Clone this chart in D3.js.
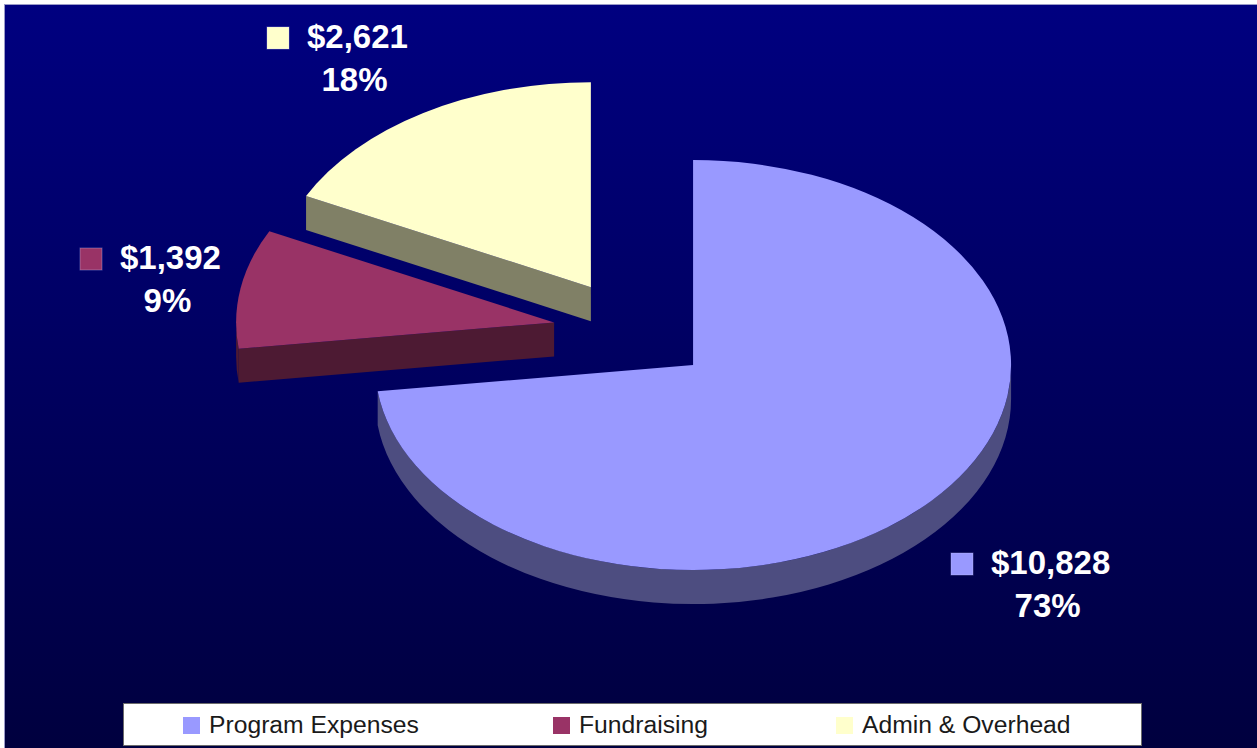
<!DOCTYPE html>
<html>
<head>
<meta charset="utf-8">
<script src="https://cdn.jsdelivr.net/npm/d3@7"></script>
<style>
  html, body { margin: 0; padding: 0; background: #ffffff; }
  svg { display: block; }
</style>
</head>
<body>
<svg id="chart" width="1257" height="748"></svg>
<script>
// ---- data ----
const categories = ["Program Expenses", "Fundraising", "Admin & Overhead"];
const values = [10828, 1392, 2621];
const topColors = ["#9999FF", "#993366", "#FFFFCC"];
const sideColors = ["#4D4D80", "#4D1A33", "#808066"];

// ---- layout ----
const W = 1257, H = 748;
const cx = 633, cy = 331;      // base pie centre
const rx = 318, ry = 205;      // ellipse radii
const depth = 34;              // 3D thickness (screen px)
const explode = 80;            // explosion distance (x units)
const k = ry / rx;
// label anchors: [square left x, first baseline y]
const labelAnchors = [[951, 574], [80, 269], [267, 48]];

const svg = d3.select("#chart");
const defs = svg.append("defs");
const grad = defs.append("linearGradient").attr("id", "bg")
  .attr("x1", 0).attr("y1", 0).attr("x2", 0).attr("y2", 1);
grad.append("stop").attr("offset", "0%").attr("stop-color", "#000080");
grad.append("stop").attr("offset", "100%").attr("stop-color", "#00003E");

svg.append("rect").attr("x", 0).attr("y", 0).attr("width", W).attr("height", H).attr("fill", "#ffffff");
svg.append("rect").attr("x", 4.5).attr("y", 4.5).attr("width", W).attr("height", H)
  .attr("fill", "url(#bg)").attr("stroke", "#9a9ac8").attr("stroke-width", 1);

const pie = d3.pie().sort(null).value(d => d);
const arcs = pie(values);
const total = d3.sum(values);

const arcGen = d3.arc().innerRadius(0).outerRadius(rx);
const D = depth / k; // depth in group (unscaled) units

const root = svg.append("g").attr("transform", `translate(${cx},${cy}) scale(1,${k})`);

// draw back-to-front: Admin, Fundraising, Program
const order = [2, 1, 0];
order.forEach(i => {
  const a = arcs[i];
  const mid = (a.startAngle + a.endAngle) / 2;
  const g = root.append("g")
    .attr("transform", `translate(${explode * Math.sin(mid)},${-explode * Math.cos(mid)})`);

  const pt = (ang, dy) => [rx * Math.sin(ang), -rx * Math.cos(ang) + dy];

  // radial walls
  const radial = [];
  if (Math.sin(a.startAngle) < -1e-6) radial.push(a.startAngle);
  if (Math.sin(a.endAngle) > 1e-6) radial.push(a.endAngle);
  radial.forEach(ang => {
    const p1 = pt(ang, 0), p2 = pt(ang, D);
    g.append("path")
      .attr("d", `M0,0L${p1[0]},${p1[1]}L${p2[0]},${p2[1]}L0,${D}Z`)
      .attr("fill", sideColors[i]);
  });

  // outer wall (front half only)
  const s = Math.max(a.startAngle, Math.PI / 2);
  const e = Math.min(a.endAngle, 3 * Math.PI / 2);
  if (e > s) {
    const p = d3.path();
    const t0 = pt(s, 0);
    p.moveTo(t0[0], t0[1]);
    p.arc(0, 0, rx, s - Math.PI / 2, e - Math.PI / 2, false);
    const b1 = pt(e, D);
    p.lineTo(b1[0], b1[1]);
    p.arc(0, D, rx, e - Math.PI / 2, s - Math.PI / 2, true);
    p.closePath();
    g.append("path").attr("d", p.toString()).attr("fill", sideColors[i]);
  }

  // top face
  g.append("path").attr("d", arcGen(a)).attr("fill", topColors[i]);
});

// ---- data labels ----
const fmtMoney = d3.format("$,");
const fmtPct = d3.format(".0%");
const labels = svg.append("g");
arcs.forEach((a, i) => {
  const [sx, by] = labelAnchors[i];
  labels.append("rect")
    .attr("x", sx).attr("y", by - 21).attr("width", 22).attr("height", 22)
    .attr("fill", topColors[i]).attr("stroke", "#c8c8ff").attr("stroke-opacity", 0.35).attr("stroke-width", 1);
  const t1 = labels.append("text")
    .attr("x", sx + 40).attr("y", by)
    .attr("font-family", "Liberation Sans, Arial, sans-serif")
    .attr("font-weight", "bold").attr("font-size", 33).attr("fill", "#ffffff")
    .text(fmtMoney(values[i]));
  const w = t1.node().getComputedTextLength();
  labels.append("text")
    .attr("x", sx + 40 + w / 2 - 3).attr("y", by + 43)
    .attr("text-anchor", "middle")
    .attr("font-family", "Liberation Sans, Arial, sans-serif")
    .attr("font-weight", "bold").attr("font-size", 33).attr("fill", "#ffffff")
    .text(fmtPct(values[i] / total));
});

// ---- legend ----
const legend = svg.append("g");
legend.append("rect").attr("x", 123.5).attr("y", 703.5).attr("width", 1018).attr("height", 42)
  .attr("fill", "#ffffff").attr("stroke", "#6b6b6b").attr("stroke-width", 1);
const legendX = [183, 553, 836];
categories.forEach((c, i) => {
  legend.append("rect").attr("x", legendX[i]).attr("y", 717).attr("width", 17).attr("height", 17)
    .attr("fill", topColors[i]);
  legend.append("text").attr("x", legendX[i] + 26).attr("y", 733)
    .attr("font-family", "Liberation Sans, Arial, sans-serif")
    .attr("font-size", 24.7).attr("fill", "#1a1a1a")
    .text(c);
});
</script>
</body>
</html>
